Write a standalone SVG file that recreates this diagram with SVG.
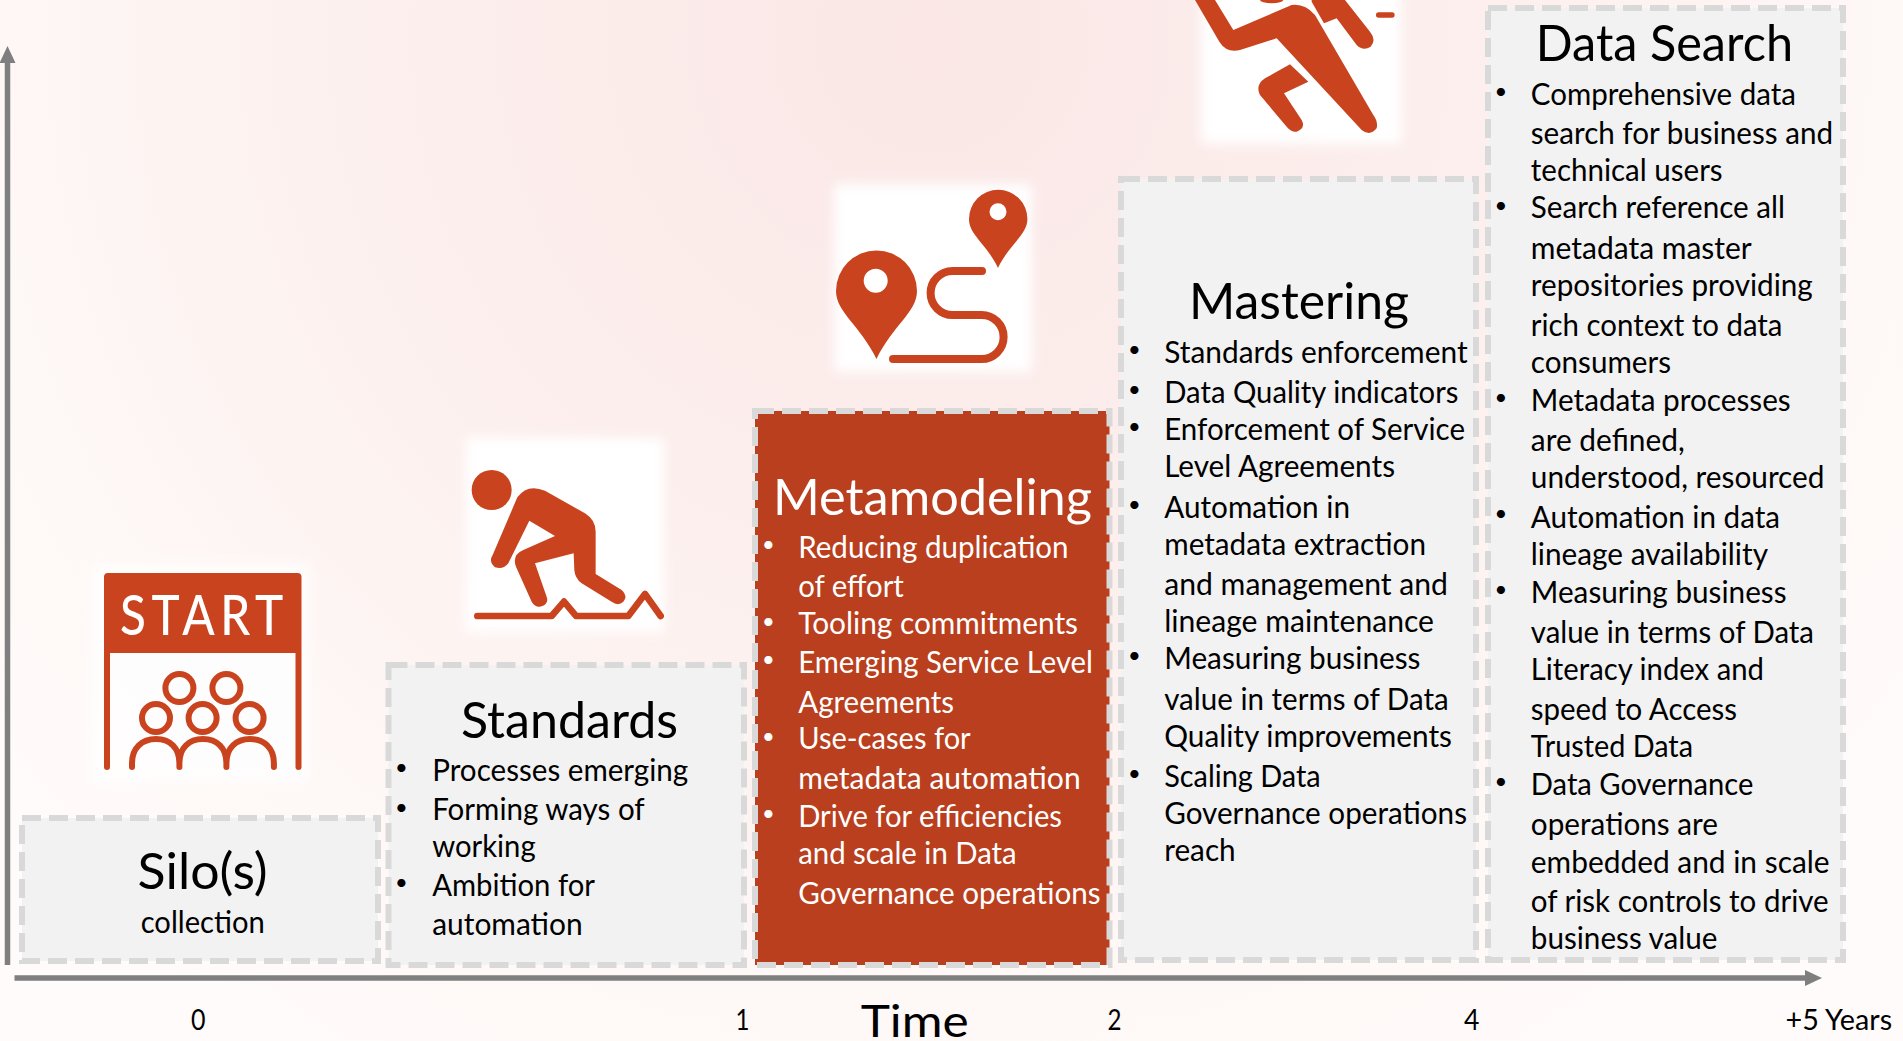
<svg xmlns="http://www.w3.org/2000/svg" width="1903" height="1041" viewBox="0 0 1903 1041">
<style>
text{font-family:"Lato","Liberation Sans",sans-serif;fill:#000}
.t{font-size:50px;transform:translate(-2px,1px)}
.b{font-size:30px;transform:translate(-.8px,1px)}
.n{font-size:29px;transform:translate(-.5px,1px)}
.bu{font-size:22px;transform:translateY(-4px)}
.w text{fill:#fff}
.box{fill:#f2f2f2;stroke:#d9d9d9;stroke-width:6;stroke-dasharray:19 8}
.ic{fill:#c9441e}
.ln{fill:none;stroke:#c9441e;stroke-linecap:round;stroke-linejoin:round}
.glow{fill:#fff;filter:url(#blur)}
.ax{fill:none;stroke:#7f7f7f;stroke-width:5.5}
</style>
<defs>
<radialGradient id="bg" gradientUnits="userSpaceOnUse" cx="930" cy="40" r="1200">
<stop offset="0" stop-color="#fae7e6"/>
<stop offset="0.45" stop-color="#fcefed"/>
<stop offset="0.8" stop-color="#fef8f6"/>
<stop offset="1" stop-color="#fffbfa"/>
</radialGradient>
<filter id="blur" x="-20%" y="-20%" width="140%" height="140%"><feGaussianBlur stdDeviation="6"/></filter>
<marker id="head" markerUnits="userSpaceOnUse" markerWidth="17" markerHeight="16" refX="1" refY="8" orient="auto"><path d="M0 0L17 8L0 16Z" fill="#7f7f7f"/></marker>
</defs>
<rect width="1903" height="1041" fill="url(#bg)"/>

<g id="connectors">
<path class="ax" d="M7.5 965V62" marker-end="url(#head)"/>
<path class="ax" d="M14.5 978H1806" marker-end="url(#head)"/>
</g>

<g id="icon-start">
<rect class="glow" x="92" y="564" width="218" height="218" opacity=".8"/>
<path class="ic" d="M104 577Q104 573 108 573H297.500Q301.500 573 301.500 577V767Q301.500 770 298.500 770Q295.500 770 295.500 767V653H110V767Q110 770 107 770Q104 770 104 767Z"/>
<text transform="translate(120 635) scale(.85 1)" font-size="56" font-weight="500" style="fill:#fff" textLength="192" lengthAdjust="spacing">START</text>
<g class="ln" stroke-width="6">
<circle cx="179.400" cy="688" r="14"/><circle cx="226.400" cy="688" r="14"/>
<circle cx="156" cy="718" r="14"/><circle cx="202.600" cy="718" r="14"/><circle cx="249.600" cy="718" r="14"/>
<path d="M132 767V763C132 748 142 739 156 739C170 739 179.400 748 179.400 763V767M179.400 763C179.400 748 189 739 202.900 739C217 739 226.400 748 226.400 763V767M226.400 763C226.400 748 236 739 250 739C264 739 273.900 748 273.900 763V767"/>
</g>
</g>

<g id="icon-hiker">
<rect class="glow" x="466" y="438" width="198" height="194"/>
<g transform="translate(440 420) scale(.3333)">
<circle class="ic" cx="155" cy="210" r="60"/>
<path class="ic" d="M232 232Q262 190 315 212L435 280Q467 300 467 335L467 462L545 510Q565 530 550 545Q535 560 515 545L425 490Q405 475 403 450L401 400L285 430L320 530Q328 555 300 560Q285 562 275 545L228 440Q215 405 250 390L345 348L268 302L205 430Q190 450 165 442Q145 425 158 405Z"/>
<path class="ln" stroke-width="20" d="M112 588H335L372 545L408 588H565L615 522L662 588"/>
</g>
</g>

<g id="icon-route">
<rect class="glow" x="834" y="184" width="198" height="188"/>
<path class="ic" fill-rule="evenodd" d="M876.500 359C860 325 836 312 836 291A40.500 40.500 0 0 1 917 291C917 312 893 325 876.500 359ZM887.700 280.700A12 12 0 1 0 863.700 280.700A12 12 0 1 0 887.700 280.700Z"/>
<path class="ic" fill-rule="evenodd" d="M998 268C986 243 969 235 969 219A29.200 29.200 0 0 1 1027.400 219C1027.400 235 1010 243 998 268ZM1006.500 211.700A8.500 8.500 0 1 0 989.500 211.700A8.500 8.500 0 1 0 1006.500 211.700Z"/>
<path class="ln" stroke-width="8" d="M982 271H952.600A22 22 0 0 0 952.600 315H981.600A22 22 0 0 1 981.600 359H893"/>
</g>

<g id="icon-runner">
<rect class="glow" x="1201" y="-20" width="200" height="164"/>
<g transform="translate(1180 0) scale(.3333)">
<path class="ic" d="M45 0L118 125Q140 160 180 150L290 115L545 390Q570 410 590 385Q595 365 580 345L405 45Q375 10 335 15L160 90L105 0Z"/>
<path class="ic" d="M330 193L385 245L312 280L365 360Q378 385 350 395Q335 398 320 380L240 285Q225 255 255 235Z"/>
<path class="ic" d="M395 5L432 70L470 55L530 135Q550 155 572 140Q590 120 570 95L495 0H395Z"/>
<ellipse class="ic" cx="275" cy="0" rx="35" ry="10"/>
<path class="ln" stroke-width="16" d="M596 45H636"/>
</g>
</g>

<g id="node-silos">
<rect class="box" x="22" y="818" width="356" height="143"/>
<text class="t" x="139.600" y="888" textLength="130" lengthAdjust="spacingAndGlyphs">Silo(s)</text>
<text class="b" x="141.500" y="931.700" textLength="124" lengthAdjust="spacingAndGlyphs">collection</text>
</g>

<g id="node-standards">
<rect class="box" x="388.500" y="665" width="355.500" height="300"/>
<text class="t" x="463" y="736.700" textLength="217" lengthAdjust="spacingAndGlyphs">Standards</text>
<text class="bu" x="395" y="779">•</text>
<text class="b" x="433" y="780" textLength="256" lengthAdjust="spacingAndGlyphs">Processes emerging</text>
<text class="bu" x="395" y="818.700">•</text>
<text class="b" x="433" y="819.300" textLength="212.500" lengthAdjust="spacingAndGlyphs">Forming ways of</text>
<text class="b" x="433" y="856" textLength="103.400" lengthAdjust="spacingAndGlyphs">working</text>
<text class="bu" x="395" y="894">•</text>
<text class="b" x="433" y="895" textLength="162.800" lengthAdjust="spacingAndGlyphs">Ambition for</text>
<text class="b" x="433" y="934.300" textLength="150.500" lengthAdjust="spacingAndGlyphs">automation</text>
</g>

<g id="node-metamodeling" class="w">
<rect class="box" x="755" y="411" width="354.500" height="554" style="fill:#b93f1e"/>
<text class="t" x="775" y="514" textLength="319" lengthAdjust="spacingAndGlyphs">Metamodeling</text>
<text class="bu" x="762" y="556">•</text>
<text class="b" x="799" y="556.700" textLength="270.400" lengthAdjust="spacingAndGlyphs">Reducing duplication</text>
<text class="b" x="799" y="596" textLength="105.600" lengthAdjust="spacingAndGlyphs">of effort</text>
<text class="bu" x="762" y="632.700">•</text>
<text class="b" x="799" y="633" textLength="279.800" lengthAdjust="spacingAndGlyphs">Tooling commitments</text>
<text class="bu" x="762" y="670.700">•</text>
<text class="b" x="799" y="671.700" textLength="294.800" lengthAdjust="spacingAndGlyphs">Emerging Service Level</text>
<text class="b" x="799" y="711.700" textLength="155.800" lengthAdjust="spacingAndGlyphs">Agreements</text>
<text class="bu" x="762" y="747.700">•</text>
<text class="b" x="799" y="748" textLength="172.500" lengthAdjust="spacingAndGlyphs">Use-cases for</text>
<text class="b" x="799" y="788" textLength="282.500" lengthAdjust="spacingAndGlyphs">metadata automation</text>
<text class="bu" x="762" y="825">•</text>
<text class="b" x="799" y="825.700" textLength="263.800" lengthAdjust="spacingAndGlyphs">Drive for efficiencies</text>
<text class="b" x="799" y="863" textLength="218.500" lengthAdjust="spacingAndGlyphs">and scale in Data</text>
<text class="b" x="799" y="903" textLength="302.500" lengthAdjust="spacingAndGlyphs">Governance operations</text>
</g>

<g id="node-mastering">
<rect class="box" x="1121" y="179" width="355" height="781"/>
<text class="t" x="1191" y="318" textLength="220" lengthAdjust="spacingAndGlyphs">Mastering</text>
<text class="bu" x="1128" y="360.700">•</text>
<text class="b" x="1165" y="362" textLength="303.400" lengthAdjust="spacingAndGlyphs">Standards enforcement</text>
<text class="bu" x="1128" y="400.700">•</text>
<text class="b" x="1165" y="401.700" textLength="294.200" lengthAdjust="spacingAndGlyphs">Data Quality indicators</text>
<text class="bu" x="1128" y="438">•</text>
<text class="b" x="1165" y="439" textLength="300.800" lengthAdjust="spacingAndGlyphs">Enforcement of Service</text>
<text class="b" x="1165" y="475.700" textLength="230.800" lengthAdjust="spacingAndGlyphs">Level Agreements</text>
<text class="bu" x="1128" y="515.700">•</text>
<text class="b" x="1165" y="516.700" textLength="185.800" lengthAdjust="spacingAndGlyphs">Automation in</text>
<text class="b" x="1165" y="554" textLength="261.800" lengthAdjust="spacingAndGlyphs">metadata extraction</text>
<text class="b" x="1165" y="594" textLength="283.800" lengthAdjust="spacingAndGlyphs">and management and</text>
<text class="b" x="1165" y="631" textLength="269.800" lengthAdjust="spacingAndGlyphs">lineage maintenance</text>
<text class="bu" x="1128" y="666.700">•</text>
<text class="b" x="1165" y="668" textLength="256.300" lengthAdjust="spacingAndGlyphs">Measuring business</text>
<text class="b" x="1165" y="708.700" textLength="284.500" lengthAdjust="spacingAndGlyphs">value in terms of Data</text>
<text class="b" x="1165" y="746" textLength="287.800" lengthAdjust="spacingAndGlyphs">Quality improvements</text>
<text class="bu" x="1128" y="785">•</text>
<text class="b" x="1165" y="786" textLength="156.500" lengthAdjust="spacingAndGlyphs">Scaling Data</text>
<text class="b" x="1165" y="822.700" textLength="302.800" lengthAdjust="spacingAndGlyphs">Governance operations</text>
<text class="b" x="1165" y="860" textLength="71.500" lengthAdjust="spacingAndGlyphs">reach</text>
</g>

<g id="node-data-search">
<rect class="box" x="1488" y="8" width="355" height="952"/>
<text class="t" x="1537.800" y="60" textLength="257.200" lengthAdjust="spacingAndGlyphs">Data Search</text>
<text class="bu" x="1494.400" y="103">•</text>
<text class="b" x="1531.600" y="104" textLength="265.200" lengthAdjust="spacingAndGlyphs">Comprehensive data</text>
<text class="b" x="1531.600" y="142.700" textLength="302.200" lengthAdjust="spacingAndGlyphs">search for business and</text>
<text class="b" x="1531.600" y="180" textLength="191.800" lengthAdjust="spacingAndGlyphs">technical users</text>
<text class="bu" x="1494.400" y="217">•</text>
<text class="b" x="1531.600" y="217" textLength="254.200" lengthAdjust="spacingAndGlyphs">Search reference all</text>
<text class="b" x="1531.600" y="257.700" textLength="221" lengthAdjust="spacingAndGlyphs">metadata master</text>
<text class="b" x="1531.600" y="295" textLength="282" lengthAdjust="spacingAndGlyphs">repositories providing</text>
<text class="b" x="1531.600" y="335" textLength="251.700" lengthAdjust="spacingAndGlyphs">rich context to data</text>
<text class="b" x="1531.600" y="372" textLength="140.200" lengthAdjust="spacingAndGlyphs">consumers</text>
<text class="bu" x="1494.400" y="408.700">•</text>
<text class="b" x="1531.600" y="410" textLength="259.900" lengthAdjust="spacingAndGlyphs">Metadata processes</text>
<text class="b" x="1531.600" y="450" textLength="153.900" lengthAdjust="spacingAndGlyphs">are defined,</text>
<text class="b" x="1531.600" y="487" textLength="293.700" lengthAdjust="spacingAndGlyphs">understood, resourced</text>
<text class="bu" x="1494.400" y="525">•</text>
<text class="b" x="1531.600" y="527" textLength="249.200" lengthAdjust="spacingAndGlyphs">Automation in data</text>
<text class="b" x="1531.600" y="564" textLength="237.200" lengthAdjust="spacingAndGlyphs">lineage availability</text>
<text class="bu" x="1494.400" y="600.700">•</text>
<text class="b" x="1531.600" y="601.700" textLength="255.800" lengthAdjust="spacingAndGlyphs">Measuring business</text>
<text class="b" x="1531.600" y="641.700" textLength="283.200" lengthAdjust="spacingAndGlyphs">value in terms of Data</text>
<text class="b" x="1531.600" y="679" textLength="233.200" lengthAdjust="spacingAndGlyphs">Literacy index and</text>
<text class="b" x="1531.600" y="719" textLength="206.200" lengthAdjust="spacingAndGlyphs">speed to Access</text>
<text class="b" x="1531.600" y="756" textLength="162.200" lengthAdjust="spacingAndGlyphs">Trusted Data</text>
<text class="bu" x="1494.400" y="792.700">•</text>
<text class="b" x="1531.600" y="794" textLength="222.600" lengthAdjust="spacingAndGlyphs">Data Governance</text>
<text class="b" x="1531.600" y="834" textLength="187.200" lengthAdjust="spacingAndGlyphs">operations are</text>
<text class="b" x="1531.600" y="871.700" textLength="298.800" lengthAdjust="spacingAndGlyphs">embedded and in scale</text>
<text class="b" x="1531.600" y="910.700" textLength="297.800" lengthAdjust="spacingAndGlyphs">of risk controls to drive</text>
<text class="b" x="1531.600" y="948.300" textLength="186.700" lengthAdjust="spacingAndGlyphs">business value</text>
</g>

<g id="time-axis-labels">
<text class="n" x="191.500" y="1029" textLength="14.500" lengthAdjust="spacingAndGlyphs">0</text>
<text class="n" x="736" y="1029" textLength="14" lengthAdjust="spacingAndGlyphs">1</text>
<text x="860.700" y="1036.700" font-size="45" textLength="108" lengthAdjust="spacingAndGlyphs">Time</text>
<text class="n" x="1108" y="1029" textLength="14" lengthAdjust="spacingAndGlyphs">2</text>
<text class="n" x="1464.600" y="1029" textLength="15.400" lengthAdjust="spacingAndGlyphs">4</text>
<text class="n" x="1786" y="1029" textLength="106.600" lengthAdjust="spacingAndGlyphs">+5 Years</text>
</g>
</svg>
